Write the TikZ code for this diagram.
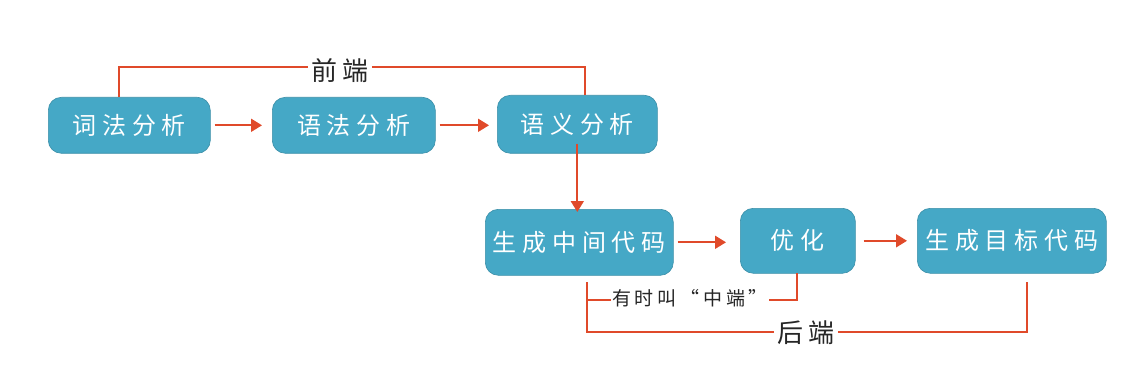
\documentclass[tikz,border=0pt]{standalone}
\usepackage{fontspec}
\setmainfont{Noto Sans CJK SC}
\newfontfamily\boxfont[LetterSpace=24]{Noto Sans CJK SC}
\newfontfamily\lblfont[LetterSpace=20]{Noto Sans CJK SC}
\usetikzlibrary{arrows.meta}
\definecolor{boxblue}{HTML}{45A8C6}
\definecolor{linered}{HTML}{E04A2A}
\begin{document}
\begin{tikzpicture}[x=1pt,y=-1pt,
  stage/.style={draw=boxblue!85!black, line width=0.6pt, fill=boxblue, rounded corners=13pt, text=white, font=\boxfont\fontsize{24}{28}\selectfont, inner sep=0pt, anchor=north west},
  flow/.style={draw=linered, line width=1.8pt, -{Triangle[length=11pt,width=13pt]}},
  brace/.style={draw=linered, line width=1.3pt},
  lbl/.style={font=\lblfont\fontsize{26}{28}\selectfont, text=black!85, fill=white, inner sep=3pt}]
\useasboundingbox (0,0) rectangle (1142,382);
\node[stage, minimum width=162pt, minimum height=56pt] (a) at (48,97) {词法分析};
\node[stage, minimum width=163pt, minimum height=56pt] (b) at (272,97) {语法分析};
\node[stage, minimum width=160pt, minimum height=58pt] (c) at (497,95) {语义分析};
\node[stage, minimum width=188pt, minimum height=66pt] (d) at (485,209) {生成中间代码};
\node[stage, minimum width=115pt, minimum height=65pt] (e) at (740,208) {优化};
\node[stage, minimum width=189pt, minimum height=65pt] (f) at (917,208) {生成目标代码};
% flow arrows
\draw[flow] ([xshift=4pt]a.east) -- ([xshift=-10pt]b.west);
\draw[flow] ([xshift=4pt]b.east) -- ([xshift=-8pt]c.west |- b.east);
\draw[flow] ([yshift=10pt]c.south) -- ([yshift=-3pt]d.north -| c.south);
\draw[flow] ([xshift=4pt]d.east) -- ([xshift=-14pt]e.west |- d.east);
\draw[flow] ([xshift=8pt]e.east) -- ([xshift=-10pt]f.west);
% front-end bracket
\coordinate (fa) at (119,97);
\coordinate (fb) at (585,95);
\node[lbl] (front) at (340,71) {前端};
\draw[brace] (fa) -- (119,67) -- (front.west |- 0,67);
\draw[brace] (front.east |- 0,67) -- (585,67) -- (fb);
% back-end bracket
\coordinate (ba) at (587,282);
\coordinate (bb) at (1027,282);
\node[lbl] (back) at (806,333) {后端};
\draw[brace] (ba) -- (587,332) -- (back.west |- 0,332);
\draw[brace] (back.east |- 0,332) -- (1027,332) -- (bb);
% middle-end bracket
\node[lbl, font=\lblfont\fontsize{19}{22}\selectfont, inner sep=1pt] (mid) at (690,298) {有时叫“中端”};
\coordinate (ma) at (587,300);
\coordinate (mb) at (797,273);
\draw[brace] (ma) -- (mid.west |- 0,300);
\draw[brace] (mid.east |- 0,300) -- (797,300) -- (mb);
\end{tikzpicture}
\end{document}
